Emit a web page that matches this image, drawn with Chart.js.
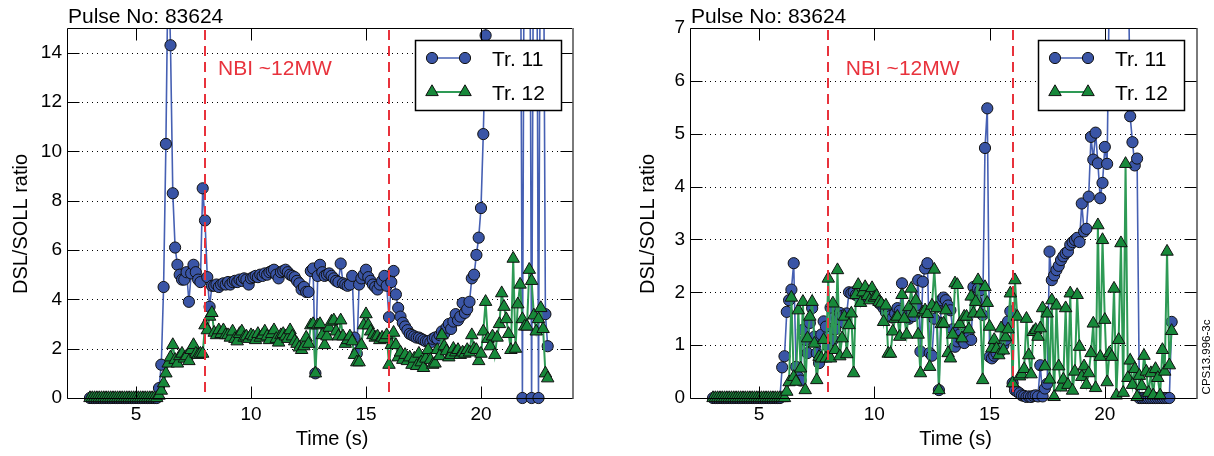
<!DOCTYPE html>
<meta charset="utf-8">
<title>DSL/SOLL ratio - pulse 83624</title>
<script src="https://cdn.jsdelivr.net/npm/chart.js@4.4.1/dist/chart.umd.min.js"></script>
<style>
body { margin: 0; background: #fff; }
.panel { position: absolute; top: 0; }
</style>

<canvas id="left" class="panel" width="607" height="456" style="left:0"></canvas>
<canvas id="right" class="panel" width="607" height="456" style="left:607px"></canvas>

<script>
// time base (s), one row per second
const time = [
	3.0,3.1,3.2,3.3,3.4,3.5,3.6,3.7,3.8,3.9,
	4.0,4.1,4.2,4.3,4.4,4.5,4.6,4.7,4.8,4.9,
	5.0,5.1,5.2,5.3,5.4,5.5,5.6,5.7,5.8,5.9,
	6.0,6.1,6.2,6.3,6.4,6.5,6.6,6.7,6.8,6.9,
	7.0,7.1,7.2,7.3,7.4,7.5,7.6,7.7,7.8,7.9,
	8.0,8.1,8.2,8.3,8.4,8.5,8.6,8.7,8.8,8.9,
	9.0,9.1,9.2,9.3,9.4,9.5,9.6,9.7,9.8,9.9,
	10.0,10.1,10.2,10.3,10.4,10.5,10.6,10.7,10.8,10.9,
	11.0,11.1,11.2,11.3,11.4,11.5,11.6,11.7,11.8,11.9,
	12.0,12.1,12.2,12.3,12.4,12.5,12.6,12.7,12.8,12.9,
	13.0,13.1,13.2,13.3,13.4,13.5,13.6,13.7,13.8,13.9,
	14.0,14.1,14.2,14.3,14.4,14.5,14.6,14.7,14.8,14.9,
	15.0,15.1,15.2,15.3,15.4,15.5,15.6,15.7,15.8,15.9,
	16.0,16.1,16.2,16.3,16.4,16.5,16.6,16.7,16.8,16.9,
	17.0,17.1,17.2,17.3,17.4,17.5,17.6,17.7,17.8,17.9,
	18.0,18.1,18.2,18.3,18.4,18.5,18.6,18.7,18.8,18.9,
	19.0,19.1,19.2,19.3,19.4,19.5,19.6,19.7,19.8,19.9,
	20.0,20.1,20.2,20.3,20.4,20.5,20.6,20.7,20.8,20.9,
	21.0,21.1,21.2,21.3,21.4,21.5,21.6,21.7,21.8,21.9,
	22.0,22.1,22.2,22.3,22.4,22.5,22.6,22.7,22.8,22.9,
];

// left panel
const leftTr11 = [
	0,0,0,0,0,0,0,0,0,0,
	0,0,0,0,0,0,0,0,0,0,
	0,0,0,0,0,0,0,0,0,0,
	0.4,1.35,4.5,10.3,18,14.3,8.3,6.1,5.4,5.0,
	4.8,4.8,5.1,3.9,5.05,5.4,5.1,4.8,4.7,8.5,
	7.2,4.9,3.7,4.55,4.55,4.6,4.5,4.6,4.65,4.6,
	4.7,4.6,4.7,4.75,4.7,4.8,4.75,4.85,4.8,4.6,
	4.85,4.9,4.95,4.9,5.0,4.95,5.05,5.0,5.1,5.15,
	5.2,5.0,4.85,5.1,5.15,5.2,5.1,5.0,4.95,4.9,
	4.75,4.65,4.4,4.5,4.3,4.3,5.15,5.25,1.0,4.95,
	5.4,5.1,4.95,5.0,5.05,4.95,4.85,4.75,4.7,5.45,
	4.65,4.6,4.55,4.6,4.95,2.45,1.8,4.6,4.85,5.0,
	5.2,4.9,4.75,4.6,4.5,4.4,4.6,4.75,4.95,4.55,
	3.28,4.7,5.15,4.2,3.65,3.3,3.05,2.9,2.75,2.6,
	2.55,2.5,2.45,2.45,2.4,2.35,2.3,2.3,2.25,2.4,
	2.45,2.4,2.55,2.7,2.6,2.85,3.0,2.8,3.1,3.4,
	3.15,3.3,3.85,3.45,3.6,3.9,4.85,5.0,5.8,6.5,
	7.7,10.7,14.7,20,25,22,26,24,27,25,
	23,26,24,28,25,22,27,24,0,25,
	22,26,0,24,27,0,25,23,3.4,2.1,
];
const leftTr12 = [
	0,0,0,0,0,0,0,0,0,0,
	0,0,0,0,0,0,0,0,0,0,
	0,0,0,0,0,0,0,0,0,0,
	0.1,0.3,0.6,1.0,1.4,1.65,2.15,1.55,1.4,1.7,
	1.8,1.6,1.7,1.5,1.95,2.15,1.8,1.75,1.8,1.8,
	2.95,2.75,3.3,3.45,2.65,2.55,2.75,2.6,2.75,2.55,
	2.55,2.45,2.7,2.4,2.3,2.6,2.7,2.45,2.5,2.4,
	2.55,2.5,2.35,2.6,2.45,2.55,2.7,2.5,2.35,2.6,
	2.75,2.4,2.25,2.55,2.6,2.5,2.4,2.75,2.5,2.3,
	2.2,2.05,1.95,2.1,2.45,2.2,2.95,3.0,1.0,2.95,
	3.0,2.55,2.15,2.5,2.85,3.1,3.15,2.7,2.5,3.15,
	2.5,2.2,2.35,2.5,2.3,1.75,1.45,1.45,2.15,2.95,
	3.4,2.95,2.7,2.55,2.45,2.5,2.35,2.45,2.4,2.55,
	1.35,2.15,2.65,2.15,1.65,1.85,1.55,1.75,1.5,1.65,
	1.35,1.6,1.3,1.8,1.45,1.22,1.6,1.95,1.55,1.35,
	1.4,1.95,1.7,2.55,2.1,1.9,1.65,1.75,2.0,1.85,
	1.95,1.75,1.85,1.8,1.95,1.85,2.55,2.0,1.95,1.5,
	1.8,2.7,3.9,2.4,2.1,2.5,1.75,2.45,3.0,4.25,
	3.7,3.2,2.6,1.95,5.65,2.0,3.8,4.6,3.2,2.9,
	2.9,5.2,4.75,3.35,2.7,3.2,3.65,2.8,1.0,0.8,
];

// right panel
const rightTr11 = [
	0,0,0,0,0,0,0,0,0,0,
	0,0,0,0,0,0,0,0,0,0,
	0,0,0,0,0,0,0,0,0,0,
	0.58,0.79,1.63,1.85,2.05,2.55,0.59,0.4,0.33,1.29,
	1.1,0.85,1.42,1.7,1.16,0.85,0.66,1.2,1.45,1.35,
	0.97,1.71,1.1,1.3,1.5,1.61,1.55,1.42,1.6,2.0,
	1.98,2.0,1.95,1.93,1.9,2.0,2.05,1.98,1.95,1.98,
	1.9,1.85,1.8,1.76,1.7,1.62,1.6,1.55,1.52,1.6,
	1.7,1.65,2.17,1.55,1.6,1.5,1.68,1.55,1.75,2.23,
	0.88,2.2,2.45,2.55,0.85,0.8,1.5,1.72,0.15,1.85,
	1.9,1.85,1.75,1.66,1.3,0.97,1.07,1.2,1.1,1.04,
	1.25,1.16,1.1,2.1,1.85,2.07,2.04,1.57,4.73,5.48,
	0.78,0.75,0.8,0.85,0.96,0.9,1.0,1.1,1.45,1.64,
	0.28,0.15,0.12,0.09,0.05,0.04,0.02,0.03,0.02,0.04,
	0.05,0.03,0.62,0.03,0.18,0.27,2.77,2.23,2.32,2.42,
	2.5,2.61,2.68,2.74,2.77,2.9,2.95,2.99,3.03,2.95,
	3.68,3.15,3.2,3.81,4.94,4.51,5.02,4.44,3.78,4.07,
	4.75,4.43,8,10,9,12,8.5,10,9,11,
	9,5.33,4.84,4.4,4.53,0,0,0,0,0,
	0,0,0,0,0,0,0,0,0,1.44,
];
const rightTr12 = [
	0,0,0,0,0,0,0,0,0,0,
	0,0,0,0,0,0,0,0,0,0,
	0,0,0,0,0,0,0,0,0,0,
	0,0,0.12,0.3,1.9,0.4,0.31,1.66,0.56,1.82,
	0.15,1.13,1.54,1.82,1.03,0.34,0.78,0.75,1.1,0.75,
	2.26,0.75,1.79,0.91,2.42,0.79,1.13,1.54,0.83,1.38,
	1.6,0.47,1.95,2.14,1.8,2.0,2.1,1.93,1.85,2.08,
	1.9,1.93,1.82,1.79,1.44,1.75,0.84,0.84,1.26,1.5,
	1.54,1.16,1.95,1.5,1.2,1.72,2.07,1.6,1.85,1.2,
	0.47,1.62,1.66,1.59,0.59,1.75,2.43,1.7,0.15,1.4,
	1.41,1.66,0.85,0.75,1.2,2.17,2.14,1.4,1.13,1.54,
	1.54,1.3,1.92,1.6,1.82,2.23,1.6,0.34,2.1,1.8,
	1.35,0.94,1.1,0.93,0.81,1.32,0.9,1.15,1.3,1.98,
	0.28,2.23,1.54,0.41,0.45,0.55,1.5,0.81,0.45,1.25,
	1.29,1.16,1.32,1.7,0.6,1.6,0.35,1.85,0.02,1.75,
	0.6,0.2,0.35,1.7,0.25,1.98,0.14,0.5,1.95,0.97,
	0.4,0.6,0.25,0.47,0.85,1.41,0.19,3.27,0.78,2.99,
	1.48,0.3,0.85,0.78,2.07,0.05,1.1,2.93,0.1,4.43,
	0.38,0.71,0.25,0.55,0.02,0.42,0.23,0.8,0.5,0.1,
	0.47,0.05,0.55,0.38,0.05,0.91,0.5,2.77,0.62,1.27,
];

const xTicks = [5, 10, 15, 20];
const leftYTicks = [0, 2, 4, 6, 8, 10, 12, 14];
const rightYTicks = [0, 1, 2, 3, 4, 5, 6, 7];
const nbiTimes = [8, 16];

const FONT = '"Liberation Sans", Arial, Helvetica, sans-serif';
const BLUE = '#3a55a6';
const BLUE_LINE = '#4660b3';
const GREEN = '#17893a';
const GREEN_LINE = '#2e9a55';
const RED = '#e8323c';

function marker(ctx, style, x, y, r, fill) {
	ctx.beginPath();
	if (style == 'triangle') {
		for (let k = 0; k < 3; k++) {
			const ang = k * 2 * Math.PI / 3;
			const px = x + Math.sin(ang) * r, py = y - Math.cos(ang) * r;
			k ? ctx.lineTo(px, py) : ctx.moveTo(px, py);
		}
		ctx.closePath();
	} else {
		ctx.arc(x, y, r, 0, 2 * Math.PI);
	}
	ctx.fillStyle = fill;
	ctx.fill();
	ctx.lineWidth = 1;
	ctx.strokeStyle = '#111';
	ctx.stroke();
}

// dotted grid, dashed NBI lines, inward ticks, frame, legend and texts
const decor = {
	id: 'decor',
	beforeDatasetsDraw(chart, args, o) {
		const {ctx, chartArea: a, scales: {y}} = chart;
		ctx.save();
		ctx.strokeStyle = '#000';
		ctx.lineWidth = 1;
		ctx.setLineDash([1, 4]);
		for (const v of o.yTicks) {
			if (v <= y.min || v >= y.max) continue;
			const py = Math.round(y.getPixelForValue(v)) + 0.5;
			ctx.beginPath(); ctx.moveTo(a.left, py); ctx.lineTo(a.right, py); ctx.stroke();
		}
		ctx.restore();
	},
	afterDatasetsDraw(chart, args, o) {
		const {ctx, chartArea: a, scales: {x, y}} = chart;
		ctx.save();

		// NBI window
		ctx.strokeStyle = RED;
		ctx.lineWidth = 2;
		ctx.setLineDash([10, 6]);
		for (const t of nbiTimes) {
			const px = Math.round(x.getPixelForValue(t));
			ctx.beginPath(); ctx.moveTo(px, a.top + 2); ctx.lineTo(px, a.bottom); ctx.stroke();
		}
		ctx.setLineDash([]);
		ctx.fillStyle = RED;
		ctx.font = '21px ' + FONT;
		ctx.textAlign = 'left';
		ctx.textBaseline = 'alphabetic';
		ctx.fillText('NBI ~12MW', x.getPixelForValue(nbiTimes[0]) + o.nbiGap, 75);

		// frame
		const L = a.left + 0.5, R = a.right - 0.5, T = a.top + 0.5, B = a.bottom + 0.5;
		ctx.strokeStyle = '#000';
		ctx.lineWidth = 1;
		ctx.beginPath();
		ctx.moveTo(R, T); ctx.lineTo(L, T); ctx.lineTo(L, B); ctx.lineTo(R, B);
		ctx.stroke();
		ctx.strokeStyle = '#7a7a7a';
		ctx.lineWidth = 2;
		ctx.beginPath(); ctx.moveTo(a.right, a.top); ctx.lineTo(a.right, a.bottom + 1); ctx.stroke();

		// inward ticks
		ctx.strokeStyle = '#000';
		ctx.lineWidth = 1;
		ctx.beginPath();
		for (const v of xTicks) {
			const px = Math.round(x.getPixelForValue(v)) + 0.5;
			ctx.moveTo(px, B); ctx.lineTo(px, B - 12);
			ctx.moveTo(px, T); ctx.lineTo(px, T + 12);
		}
		for (const v of o.yTicks) {
			const py = Math.round(y.getPixelForValue(v)) + 0.5;
			ctx.moveTo(L, py); ctx.lineTo(L + 12, py);
			ctx.moveTo(R, py); ctx.lineTo(R - 12, py);
		}
		ctx.stroke();

		// legend
		const bx = a.left + 348, by = 40, bw = 146, bh = 70;
		ctx.fillStyle = '#fff';
		ctx.fillRect(bx, by, bw, bh);
		ctx.strokeStyle = '#000';
		ctx.lineWidth = 1.5;
		ctx.strokeRect(bx + 0.5, by + 0.5, bw, bh);
		chart.data.datasets.forEach((ds, i) => {
			const ly = by + 18 + i * 34;
			const x1 = bx + 17, x2 = bx + 50;
			ctx.strokeStyle = ds.borderColor;
			ctx.lineWidth = ds.borderWidth;
			ctx.beginPath(); ctx.moveTo(x1, ly); ctx.lineTo(x2, ly); ctx.stroke();
			marker(ctx, ds.pointStyle, x1, ly, ds.pointRadius, ds.pointBackgroundColor);
			marker(ctx, ds.pointStyle, x2, ly, ds.pointRadius, ds.pointBackgroundColor);
			ctx.fillStyle = '#000';
			ctx.font = '21px ' + FONT;
			ctx.textAlign = 'left';
			ctx.fillText(ds.label, bx + 77, ly + 7.5);
		});

		// title and axis titles
		ctx.fillStyle = '#000';
		ctx.font = '21px ' + FONT;
		ctx.textAlign = 'left';
		ctx.fillText('Pulse No: 83624', a.left + 1, 22.5);

		ctx.font = '20px ' + FONT;
		ctx.textAlign = 'center';
		ctx.fillText('Time (s)', (a.left + a.right) / 2 + 12, 445);

		ctx.save();
		ctx.translate(o.yTitleX, 224);
		ctx.rotate(-Math.PI / 2);
		ctx.fillText('DSL/SOLL ratio', 0, 0);
		ctx.restore();

		if (o.stamp) {
			ctx.save();
			ctx.translate(603, 357);
			ctx.rotate(-Math.PI / 2);
			ctx.font = '11.5px ' + FONT;
			ctx.fillText(o.stamp, 0, 0);
			ctx.restore();
		}
		ctx.restore();
	},
};

function makeChart(id, tr11, tr12, yMax, yTicks, yWidth, padRight, extra) {
	const clip = {left: 10, right: 10, top: 0, bottom: 10};
	return new Chart(document.getElementById(id), {
		type: 'line',
		data: {
			labels: time,
			datasets: [
				{
					label: 'Tr. 11',
					data: tr11,
					order: 2,
					borderColor: BLUE_LINE,
					borderWidth: 1.6,
					pointStyle: 'circle',
					pointRadius: 5.6,
					pointBackgroundColor: BLUE,
					pointBorderColor: '#111',
					pointBorderWidth: 1,
					clip: clip,
				},
				{
					label: 'Tr. 12',
					data: tr12,
					order: 1,
					borderColor: GREEN_LINE,
					borderWidth: 2,
					pointStyle: 'triangle',
					pointRadius: 7.2,
					pointBackgroundColor: GREEN,
					pointBorderColor: '#111',
					pointBorderWidth: 1,
					clip: clip,
				},
			],
		},
		options: {
			responsive: false,
			animation: false,
			events: [],
			layout: {padding: {left: 0, top: 28, right: padRight, bottom: 0}},
			plugins: {
				legend: {display: false},
				tooltip: {enabled: false},
				decor: Object.assign({yTicks: yTicks}, extra),
			},
			scales: {
				x: {
					type: 'linear',
					min: 2,
					max: 24,
					afterBuildTicks: s => { s.ticks = xTicks.map(v => ({value: v})); },
					afterFit: s => { s.height = 58; },
					grid: {display: false, drawTicks: false},
					border: {display: false},
					ticks: {
						font: {family: FONT, size: 19},
						color: '#000',
						padding: 5,
						maxRotation: 0,
						autoSkip: false,
						callback: v => String(v),
					},
				},
				y: {
					min: 0,
					max: yMax,
					afterBuildTicks: s => { s.ticks = yTicks.map(v => ({value: v})); },
					afterFit: s => { s.width = yWidth; },
					grid: {display: false, drawTicks: false},
					border: {display: false},
					ticks: {
						font: {family: FONT, size: 19},
						color: '#000',
						padding: 5,
						autoSkip: false,
						callback: v => String(v),
					},
				},
			},
		},
		plugins: [decor],
	});
}

makeChart('left', leftTr11, leftTr12, 15, leftYTicks, 67, 34, {nbiGap: 13, yTitleX: 27});
makeChart('right', rightTr11, rightTr12, 7, rightYTicks, 83, 17, {nbiGap: 17.5, yTitleX: 47, stamp: 'CPS13.996-3c'});
</script>
